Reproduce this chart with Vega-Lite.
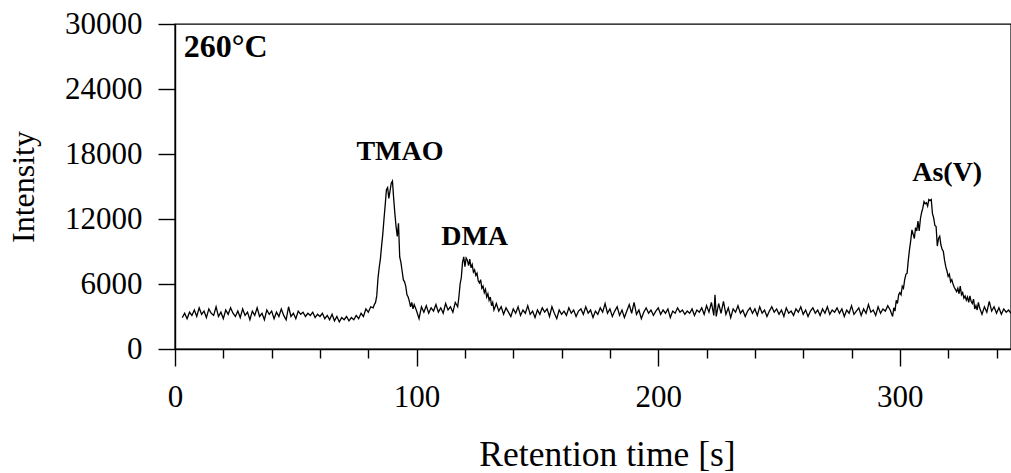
{
  "$schema": "https://vega.github.io/schema/vega-lite/v6.json",
  "width": 836,
  "height": 325,
  "autosize": {"type": "none"},
  "padding": {"left": 175, "top": 24, "right": 0, "bottom": 124},
  "background": "white",
  "config": {
    "view": {"stroke": "black", "strokeWidth": 1.4},
    "font": "Liberation Serif"
  },
  "datasets": {
    "trace": [
      {"t":3,"v":2900},{"t":4,"v":3300},{"t":5,"v":2800},{"t":6,"v":3400},{"t":7,"v":3100},{"t":8,"v":3600},{"t":9,"v":3000},{"t":10,"v":3800},
      {"t":11,"v":3200},{"t":12,"v":3500},{"t":13,"v":2900},{"t":14,"v":3700},{"t":15,"v":3300},{"t":16,"v":3100},{"t":17,"v":3900},{"t":18,"v":3000},
      {"t":19,"v":3400},{"t":20,"v":2800},{"t":21,"v":3600},{"t":22,"v":3200},{"t":23,"v":3800},{"t":24,"v":3300},{"t":25,"v":3000},{"t":26,"v":3500},
      {"t":27,"v":2900},{"t":28,"v":3700},{"t":29,"v":3100},{"t":30,"v":3400},{"t":31,"v":2700},{"t":32,"v":3500},{"t":33,"v":3100},{"t":34,"v":3800},
      {"t":35,"v":3000},{"t":36,"v":3300},{"t":37,"v":2700},{"t":38,"v":3600},{"t":39,"v":3200},{"t":40,"v":3500},{"t":41,"v":2800},{"t":42,"v":3400},
      {"t":43,"v":3000},{"t":44,"v":3700},{"t":45,"v":3100},{"t":46,"v":2700},{"t":47,"v":3900},{"t":48,"v":3000},{"t":49,"v":3300},{"t":50,"v":2800},
      {"t":51,"v":3500},{"t":52,"v":3200},{"t":53,"v":3400},{"t":54,"v":3000},{"t":55,"v":3300},{"t":56,"v":3100},{"t":57,"v":3400},{"t":58,"v":2900},
      {"t":59,"v":3200},{"t":60,"v":3000},{"t":61,"v":3300},{"t":62,"v":2800},{"t":63,"v":3100},{"t":64,"v":2700},{"t":65,"v":3200},{"t":66,"v":2600},
      {"t":67,"v":3000},{"t":68,"v":2500},{"t":69,"v":2900},{"t":70,"v":2700},{"t":71,"v":3000},{"t":72,"v":2600},{"t":73,"v":2900},{"t":74,"v":2700},
      {"t":75,"v":3100},{"t":76,"v":2800},{"t":77,"v":3300},{"t":78,"v":3000},{"t":79,"v":3700},{"t":80,"v":3400},{"t":81,"v":3900},{"t":82,"v":3800},
      {"t":82.5,"v":4100},{"t":83,"v":4300},{"t":83.5,"v":4900},{"t":84,"v":6500},{"t":84.5,"v":7500},{"t":85,"v":8300},{"t":85.5,"v":9500},{"t":86,"v":10600},
      {"t":86.5,"v":12000},{"t":87,"v":13300},{"t":87.5,"v":14700},{"t":88,"v":14900},{"t":88.5,"v":13900},{"t":89,"v":14600},{"t":89.5,"v":15300},{"t":90,"v":15500},
      {"t":90.5,"v":13900},{"t":91,"v":12500},{"t":91.5,"v":11300},{"t":92,"v":10400},{"t":92.5,"v":11600},{"t":93,"v":8500},{"t":93.5,"v":8000},{"t":94,"v":7200},
      {"t":94.5,"v":6400},{"t":95,"v":6200},{"t":95.5,"v":5800},{"t":96,"v":5000},{"t":96.5,"v":4800},{"t":97,"v":4400},{"t":97.5,"v":3900},{"t":98,"v":4300},
      {"t":98.5,"v":3700},{"t":99,"v":4100},{"t":100,"v":3500},{"t":101,"v":2800},{"t":102,"v":3900},{"t":103,"v":3400},{"t":104,"v":4000},{"t":105,"v":3300},
      {"t":106,"v":3800},{"t":107,"v":3500},{"t":108,"v":4100},{"t":109,"v":3400},{"t":110,"v":3800},{"t":111,"v":3300},{"t":112,"v":4200},{"t":113,"v":3600},
      {"t":114,"v":3900},{"t":115,"v":3400},{"t":116,"v":4300},{"t":117,"v":3900},{"t":117.5,"v":4800},{"t":118,"v":6000},{"t":118.5,"v":6600},{"t":119,"v":8000},
      {"t":119.5,"v":8500},{"t":120,"v":7600},{"t":120.5,"v":8400},{"t":121,"v":8200},{"t":121.5,"v":7700},{"t":122,"v":8300},{"t":122.5,"v":7500},{"t":123,"v":7800},
      {"t":123.5,"v":7100},{"t":124,"v":7300},{"t":124.5,"v":6800},{"t":125,"v":7000},{"t":125.5,"v":6300},{"t":126,"v":6100},{"t":126.5,"v":6400},{"t":127,"v":5600},
      {"t":127.5,"v":5800},{"t":128,"v":5200},{"t":128.5,"v":5500},{"t":129,"v":4800},{"t":129.5,"v":5100},{"t":130,"v":4500},{"t":130.5,"v":4800},{"t":131,"v":4000},
      {"t":131.5,"v":4300},{"t":132,"v":3600},{"t":133,"v":4200},{"t":134,"v":3500},{"t":135,"v":3900},{"t":136,"v":3200},{"t":137,"v":3800},{"t":138,"v":3400},
      {"t":139,"v":3000},{"t":140,"v":3700},{"t":141,"v":3300},{"t":142,"v":3900},{"t":143,"v":3100},{"t":144,"v":3600},{"t":145,"v":3300},{"t":146,"v":4000},
      {"t":147,"v":3200},{"t":148,"v":3500},{"t":149,"v":2900},{"t":150,"v":3600},{"t":151,"v":3200},{"t":152,"v":3800},{"t":153,"v":3400},{"t":154,"v":3700},
      {"t":155,"v":3000},{"t":156,"v":3900},{"t":157,"v":3300},{"t":158,"v":2800},{"t":159,"v":3600},{"t":160,"v":3200},{"t":161,"v":3500},{"t":162,"v":3100},
      {"t":163,"v":3800},{"t":164,"v":3300},{"t":165,"v":3600},{"t":166,"v":3000},{"t":167,"v":3500},{"t":168,"v":3700},{"t":169,"v":3200},{"t":170,"v":3900},
      {"t":171,"v":3300},{"t":172,"v":3600},{"t":173,"v":2900},{"t":174,"v":3500},{"t":175,"v":3200},{"t":176,"v":3800},{"t":177,"v":3400},{"t":178,"v":4200},
      {"t":179,"v":3300},{"t":180,"v":3700},{"t":181,"v":3000},{"t":182,"v":3500},{"t":183,"v":3900},{"t":184,"v":3100},{"t":185,"v":3600},{"t":186,"v":2900},
      {"t":187,"v":3500},{"t":188,"v":4100},{"t":189,"v":3300},{"t":190,"v":4300},{"t":191,"v":3200},{"t":192,"v":3600},{"t":193,"v":2800},{"t":194,"v":3400},
      {"t":195,"v":3800},{"t":196,"v":3300},{"t":197,"v":3600},{"t":198,"v":3100},{"t":199,"v":3500},{"t":200,"v":3800},{"t":201,"v":3200},{"t":202,"v":3600},
      {"t":203,"v":3300},{"t":204,"v":3700},{"t":205,"v":2900},{"t":206,"v":3500},{"t":207,"v":3300},{"t":208,"v":3800},{"t":209,"v":3400},{"t":210,"v":3600},
      {"t":211,"v":3200},{"t":212,"v":3500},{"t":213,"v":3300},{"t":214,"v":3700},{"t":215,"v":3100},{"t":216,"v":3600},{"t":217,"v":3400},{"t":218,"v":3800},
      {"t":219,"v":3200},{"t":220,"v":4000},{"t":221,"v":3400},{"t":222,"v":4300},{"t":223,"v":3100},{"t":223.5,"v":5000},{"t":224,"v":3000},{"t":225,"v":4200},
      {"t":226,"v":3300},{"t":227,"v":4400},{"t":228,"v":3200},{"t":229,"v":3800},{"t":230,"v":2900},{"t":231,"v":3700},{"t":232,"v":3400},{"t":233,"v":4000},
      {"t":234,"v":3300},{"t":235,"v":3600},{"t":236,"v":3000},{"t":237,"v":3500},{"t":238,"v":3800},{"t":239,"v":3300},{"t":240,"v":3700},{"t":241,"v":3100},
      {"t":242,"v":3900},{"t":243,"v":3300},{"t":244,"v":3600},{"t":245,"v":3000},{"t":246,"v":3500},{"t":247,"v":3900},{"t":248,"v":3400},{"t":249,"v":3700},
      {"t":250,"v":3200},{"t":251,"v":3600},{"t":252,"v":3000},{"t":253,"v":3800},{"t":254,"v":3300},{"t":255,"v":3500},{"t":256,"v":3100},{"t":257,"v":3700},
      {"t":258,"v":3400},{"t":259,"v":3900},{"t":260,"v":3200},{"t":261,"v":3600},{"t":262,"v":3000},{"t":263,"v":3500},{"t":264,"v":3800},{"t":265,"v":3300},
      {"t":266,"v":3600},{"t":267,"v":3100},{"t":268,"v":3700},{"t":269,"v":3300},{"t":270,"v":3900},{"t":271,"v":3200},{"t":272,"v":3600},{"t":273,"v":3400},
      {"t":274,"v":3800},{"t":275,"v":3300},{"t":276,"v":3700},{"t":277,"v":3000},{"t":278,"v":3600},{"t":279,"v":3300},{"t":280,"v":4000},{"t":281,"v":3200},
      {"t":282,"v":3500},{"t":283,"v":3800},{"t":284,"v":3100},{"t":285,"v":3700},{"t":286,"v":3300},{"t":287,"v":4100},{"t":288,"v":3400},{"t":289,"v":3600},
      {"t":290,"v":3100},{"t":291,"v":3900},{"t":292,"v":3300},{"t":293,"v":3700},{"t":294,"v":3500},{"t":295,"v":4000},{"t":296,"v":3600},{"t":297,"v":3000},
      {"t":297.5,"v":3800},{"t":298,"v":3500},{"t":298.5,"v":4500},{"t":299,"v":4200},{"t":299.5,"v":5000},{"t":300,"v":5200},{"t":300.5,"v":5000},{"t":301,"v":5800},
      {"t":301.5,"v":5600},{"t":302,"v":6400},{"t":302.5,"v":6900},{"t":303,"v":7000},{"t":303.5,"v":8200},{"t":304,"v":9200},{"t":304.5,"v":10000},{"t":305,"v":11000},
      {"t":305.5,"v":10600},{"t":306,"v":10200},{"t":306.5,"v":11200},{"t":307,"v":10900},{"t":307.5,"v":11800},{"t":308,"v":10900},{"t":308.5,"v":12000},{"t":309,"v":12600},
      {"t":309.5,"v":13000},{"t":310,"v":13600},{"t":310.5,"v":13400},{"t":311,"v":13500},{"t":311.5,"v":13200},{"t":312,"v":13800},{"t":312.5,"v":13700},{"t":313,"v":13800},
      {"t":313.5,"v":12500},{"t":314,"v":12100},{"t":314.5,"v":11400},{"t":315,"v":11300},{"t":315.5,"v":9500},{"t":316,"v":10200},{"t":316.5,"v":10400},{"t":317,"v":9600},
      {"t":317.5,"v":9200},{"t":318,"v":9000},{"t":318.5,"v":8200},{"t":319,"v":7600},{"t":319.5,"v":7200},{"t":320,"v":6700},{"t":320.5,"v":6900},{"t":321,"v":6200},
      {"t":321.5,"v":6400},{"t":322,"v":6000},{"t":322.5,"v":5700},{"t":323,"v":5500},{"t":323.5,"v":5300},{"t":324,"v":5600},{"t":324.5,"v":5100},{"t":325,"v":5800},
      {"t":325.5,"v":5000},{"t":326,"v":5200},{"t":326.5,"v":4700},{"t":327,"v":4900},{"t":327.5,"v":4500},{"t":328,"v":4800},{"t":328.5,"v":4300},{"t":329,"v":4900},
      {"t":329.5,"v":4400},{"t":330,"v":4200},{"t":330.5,"v":4600},{"t":331,"v":3700},{"t":331.5,"v":4000},{"t":332,"v":3600},{"t":332.5,"v":4300},{"t":333,"v":3800},
      {"t":334,"v":3200},{"t":335,"v":3900},{"t":336,"v":3400},{"t":337,"v":4400},{"t":338,"v":3500},{"t":339,"v":3900},{"t":340,"v":3300},{"t":341,"v":3800},
      {"t":342,"v":3200},{"t":343,"v":3700},{"t":344,"v":3400},{"t":345,"v":3600},{"t":346,"v":3300}
    ],
    "labels": [
      {"t":93.1,"v":17470,"label":"TMAO"},
      {"t":124.0,"v":9630,"label":"DMA"},
      {"t":319.6,"v":15470,"label":"As(V)"}
    ],
    "temp": [
      {"t":21.0,"v":26950,"label":"260°C"}
    ]
  },
  "resolve": {"axis": {"x": "independent"}},
  "layer": [
    {
      "data": {"name": "trace"},
      "mark": {"type": "line", "color": "black", "strokeWidth": 1.3, "clip": true},
      "encoding": {
        "x": {
          "field": "t", "type": "quantitative",
          "scale": {"domain": [0, 346], "nice": false, "zero": false},
          "axis": {
            "orient": "bottom",
            "title": "Retention time [s]",
            "values": [0, 100, 200, 300],
            "format": "d",
            "grid": false,
            "domainColor": "black", "domainWidth": 1.4,
            "tickColor": "black", "tickWidth": 1.4, "tickSize": 17,
            "labelFont": "Liberation Serif", "labelFontSize": 31, "labelColor": "black",
            "labelPadding": 16, "labelFlush": false,
            "titleFont": "Liberation Serif", "titleFontSize": 35.5, "titleFontWeight": "normal", "titleColor": "black",
            "titlePadding": 25,
            "titleX": 432,
            "titleAlign": "center"
          }
        },
        "y": {
          "field": "v", "type": "quantitative",
          "scale": {"domain": [0, 30000], "nice": false},
          "axis": {
            "title": "Intensity",
            "values": [0, 6000, 12000, 18000, 24000, 30000],
            "format": "d",
            "grid": false,
            "domainColor": "black", "domainWidth": 1.4,
            "tickColor": "black", "tickWidth": 1.4, "tickSize": 17,
            "labelFont": "Liberation Serif", "labelFontSize": 31, "labelColor": "black",
            "labelPadding": 16, "labelFlush": false,
            "titleFont": "Liberation Serif", "titleFontSize": 32, "titleFontWeight": "normal", "titleColor": "black",
            "titlePadding": 24
          }
        }
      }
    },
    {
      "data": {"name": "labels"},
      "mark": {"type": "text", "font": "Liberation Serif", "fontWeight": "bold", "fontSize": 28, "align": "center", "baseline": "alphabetic", "color": "black"},
      "encoding": {
        "x": {
          "field": "t", "type": "quantitative",
          "axis": {
            "orient": "bottom",
            "title": null,
            "values": [20, 40, 60, 80, 120, 140, 160, 180, 220, 240, 260, 280, 320, 340],
            "labels": false,
            "domain": false,
            "grid": false,
            "tickColor": "black", "tickWidth": 1.4, "tickSize": 9
          }
        },
        "y": {"field": "v", "type": "quantitative"},
        "text": {"field": "label"}
      }
    },
    {
      "data": {"name": "temp"},
      "mark": {"type": "text", "font": "Liberation Serif", "fontWeight": "bold", "fontSize": 32, "align": "center", "baseline": "alphabetic", "color": "black"},
      "encoding": {
        "x": {"field": "t", "type": "quantitative", "axis": null},
        "y": {"field": "v", "type": "quantitative"},
        "text": {"field": "label"}
      }
    }
  ]
}
